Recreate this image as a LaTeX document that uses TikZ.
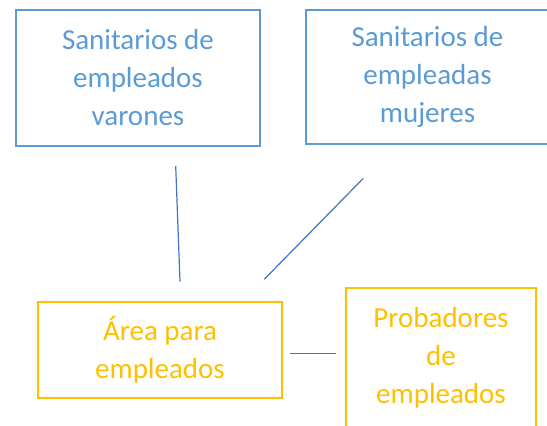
\documentclass[tikz,border=0pt]{standalone}
\usepackage{fontspec}
\setmainfont{Carlito}
\definecolor{boxblue}{HTML}{5B9BD5}
\definecolor{lineblue}{HTML}{4472C4}
\definecolor{gold}{HTML}{FFC000}
\begin{document}
\begin{tikzpicture}[x=1pt,y=-1pt,
  box/.style={draw, line width=2pt, rectangle, inner sep=0pt, align=center,
    font={\fontsize{29}{38}\selectfont}},
  bluebox/.style={box, draw=boxblue, text=boxblue},
  goldbox/.style={box, draw=gold, text=gold},
  link/.style={draw=lineblue, line width=1.2pt}]
\useasboundingbox (0,0) rectangle (547,426);
\node[bluebox, minimum width=244pt, minimum height=136pt] (varones) at (138,78)
  {Sanitarios de\\empleados\\varones};
\node[bluebox, minimum width=244pt, minimum height=134pt] (mujeres) at (427.5,77)
  {\raisebox{-2pt}{Sanitarios de}\\\raisebox{-2pt}{empleadas}\\\raisebox{-2pt}{mujeres}};
\node[goldbox, minimum width=244pt, minimum height=96pt] (area) at (160,350)
  {Área para\\empleados};
\node[goldbox, minimum width=190pt, minimum height=140pt] (probadores) at (441,358)
  {Probadores\\de\\empleados};
\coordinate (l1a) at (175.7,166);
\coordinate (l1b) at (180,281.7);
\coordinate (l2a) at (363.3,178.3);
\coordinate (l2b) at (264.3,279.3);
\coordinate (l3a) at (290,353.3);
\coordinate (l3b) at (335.7,353.3);
\draw[link] (l1a) -- (l1b);
\draw[link] (l2a) -- (l2b);
\draw[link] (l3a) -- (l3b);
\end{tikzpicture}
\end{document}
